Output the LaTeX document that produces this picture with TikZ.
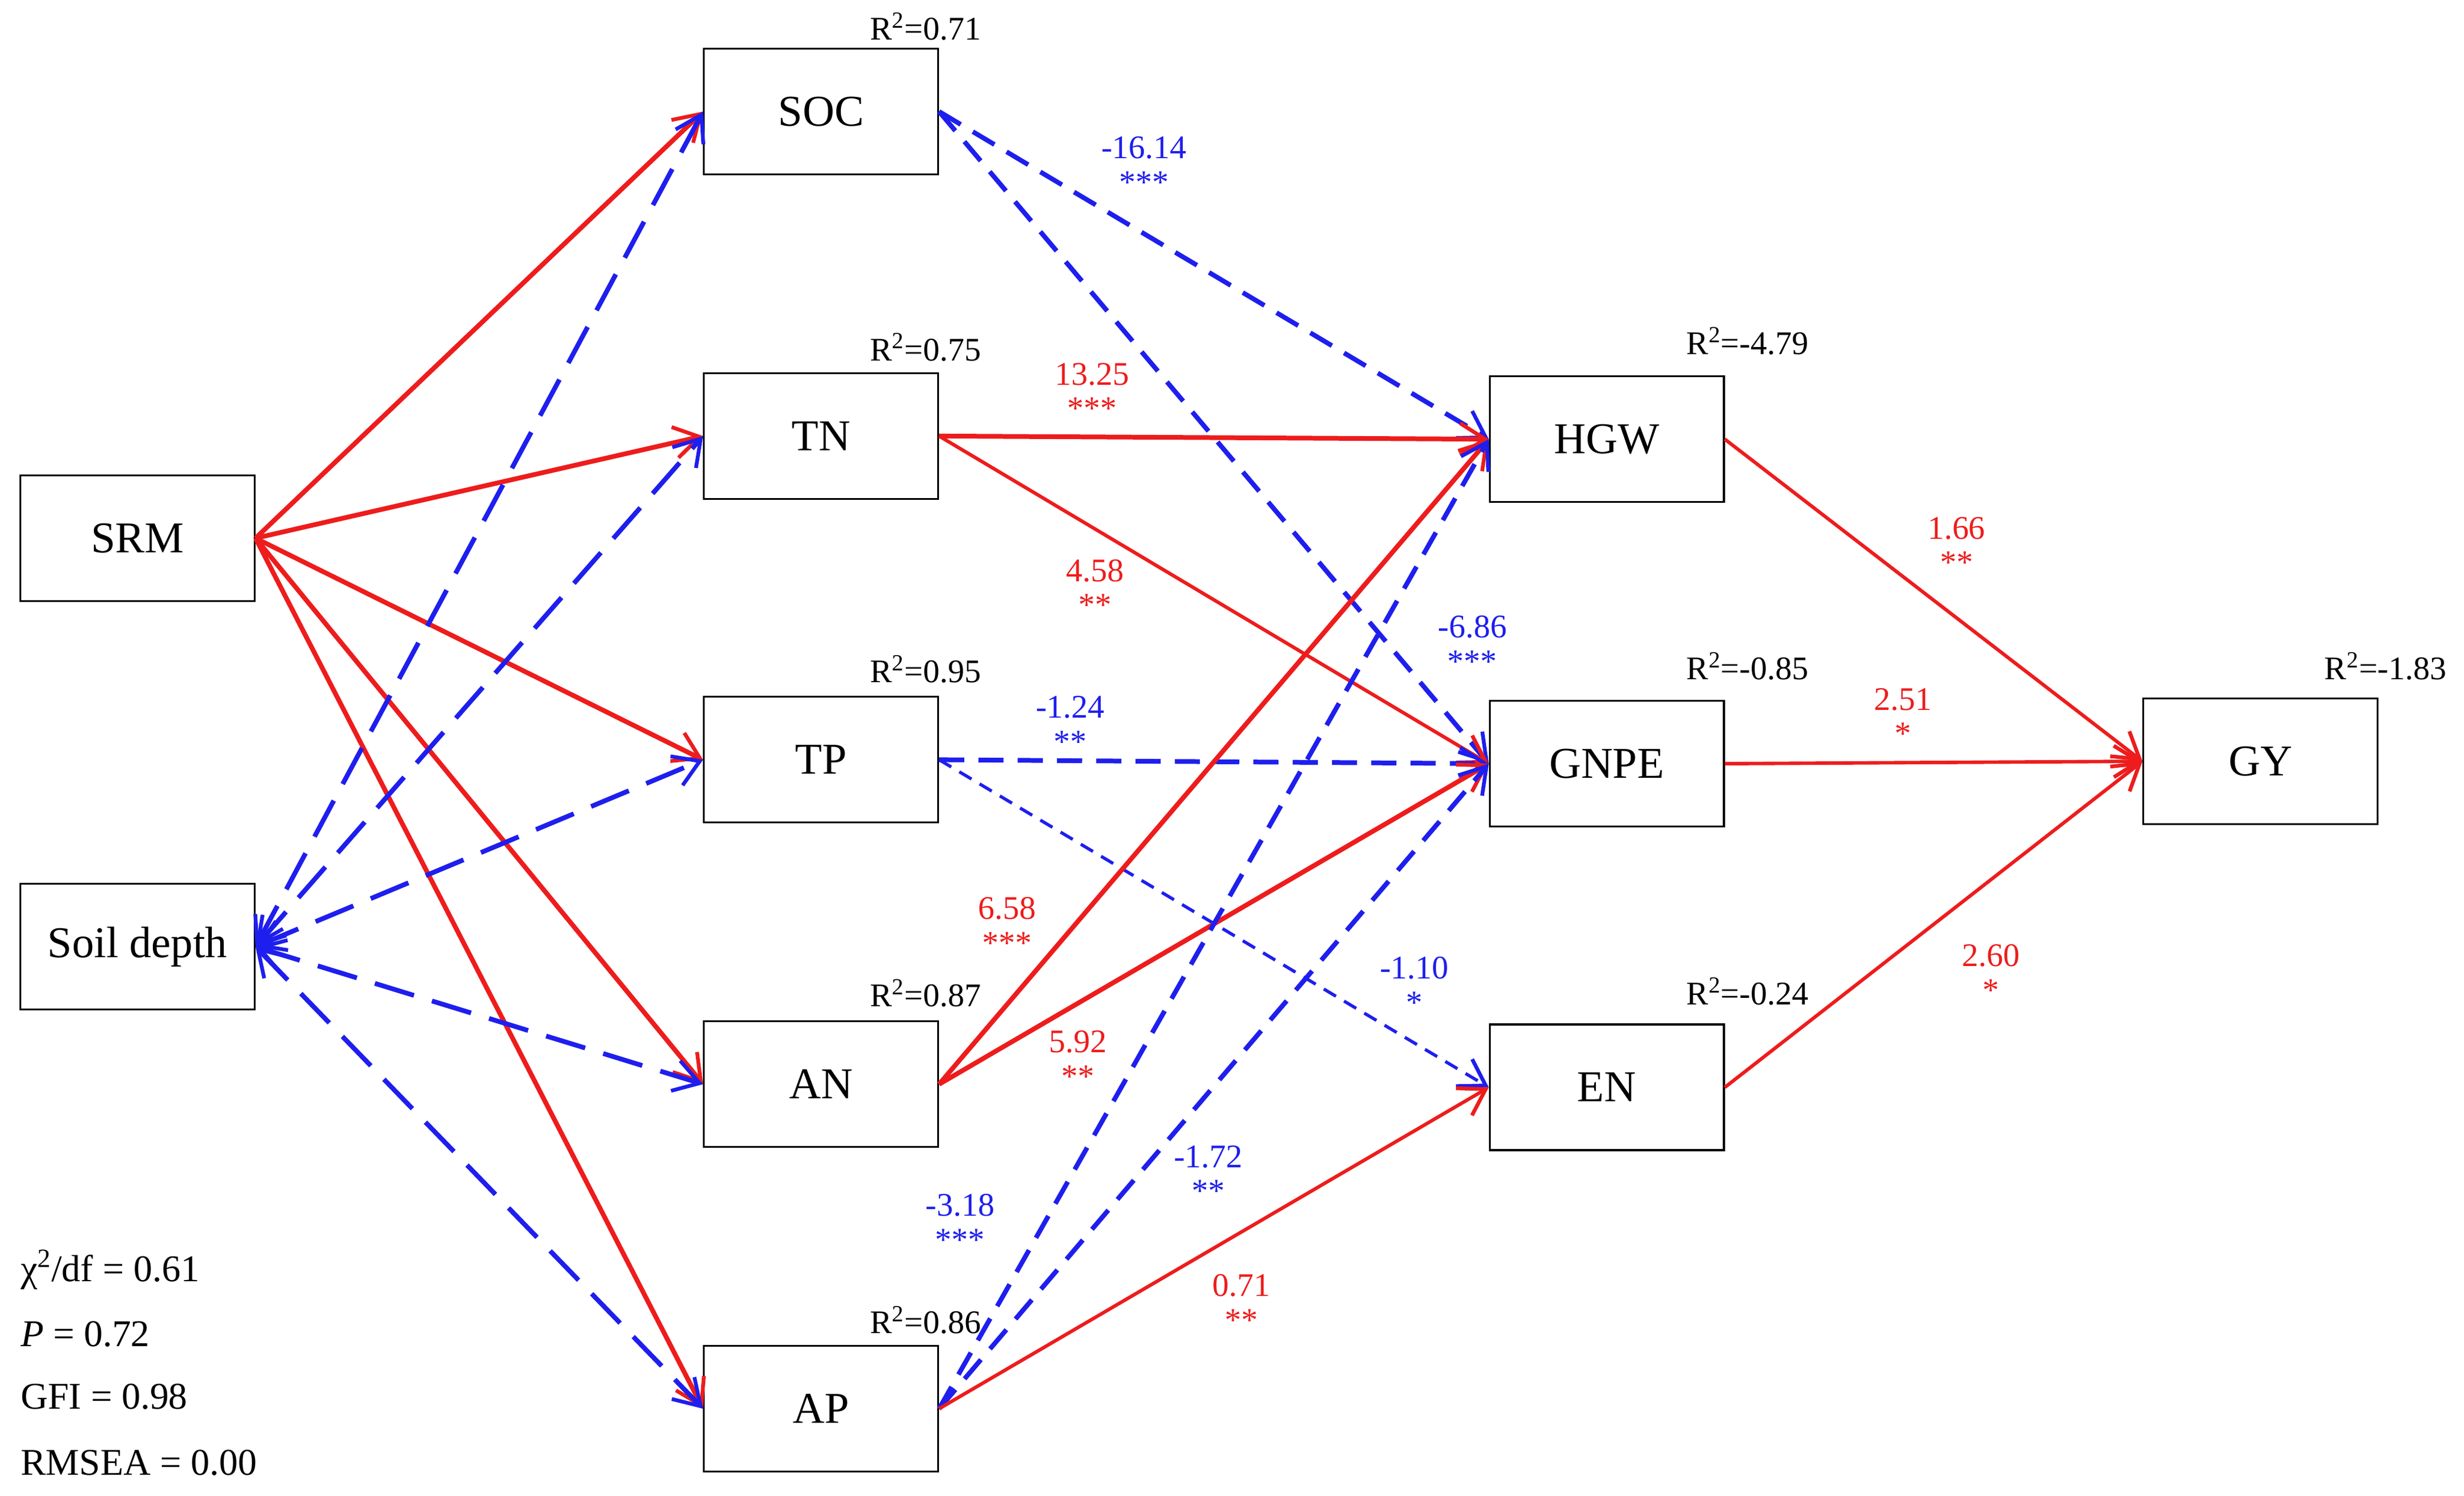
\documentclass[tikz,border=0pt]{standalone}
\usepackage{fontspec}
\setmainfont{Liberation Serif}
\usetikzlibrary{arrows.meta}
\definecolor{myred}{RGB}{238,28,28}
\definecolor{myblue}{RGB}{30,30,238}
\begin{document}
\begin{tikzpicture}[x=1pt,y=-1pt,
  box/.style={draw,line width=1.2pt,minimum width=149pt,minimum height=80pt,inner sep=0pt,font=\fontsize{28}{30}\selectfont},
  tip/.style={-{Straight Barb[length=16pt,width=20pt,line width=2.4pt]}},
  rthick/.style={tip,draw=myred,line width=3pt},
  rthin/.style={tip,draw=myred,line width=2.2pt},
  bthick/.style={tip,draw=myblue,line width=3pt,dash pattern=on 16pt off 9pt},
  bthin/.style={tip,draw=myblue,line width=2pt,dash pattern=on 9pt off 6pt},
  soil/.style={{Straight Barb[length=16pt,width=20pt,line width=2.4pt]}-{Straight Barb[length=16pt,width=20pt,line width=2.4pt]},draw=myblue,line width=3pt,dash pattern=on 26pt off 12pt},
  lr/.style={text=myred,font=\fontsize{21}{21}\selectfont,align=center,inner sep=0pt},
  lb/.style={text=myblue,font=\fontsize{21}{21}\selectfont,align=center,inner sep=0pt},
  rs/.style={font=\fontsize{21}{21}\selectfont,inner sep=0pt},
  st/.style={font=\fontsize{24}{24}\selectfont,anchor=west,inner sep=0pt}]
\useasboundingbox (0,0) rectangle (1568,952);
\node[box] (SOC) at (522.5,71) {SOC};
\node[box] (TN) at (522.5,277.5) {TN};
\node[box] (TP) at (522.5,483.5) {TP};
\node[box] (AN) at (522.5,690) {AN};
\node[box] (AP) at (522.5,896.5) {AP};
\node[box] (SRM) at (87.5,342.5) {SRM};
\node[box] (SD) at (87.5,602.5) {Soil depth};
\node[box] (HGW) at (1022.5,279.5) {HGW};
\node[box] (GNPE) at (1022.5,486) {GNPE};
\node[box] (EN) at (1022.5,692) {EN};
\node[box] (GY) at (1438.5,484.5) {GY};
% R2 labels
\node[rs] (r1) at (589,17) {R\textsuperscript{2}=0.71};
\node[rs] (r2) at (589,221) {R\textsuperscript{2}=0.75};
\node[rs] (r3) at (589,426) {R\textsuperscript{2}=0.95};
\node[rs] (r4) at (589,632) {R\textsuperscript{2}=0.87};
\node[rs] (r5) at (589,840) {R\textsuperscript{2}=0.86};
\node[rs] (r6) at (1112,217) {R\textsuperscript{2}=-4.79};
\node[rs] (r7) at (1112,424) {R\textsuperscript{2}=-0.85};
\node[rs] (r8) at (1112,631) {R\textsuperscript{2}=-0.24};
\node[rs] (r9) at (1518,424) {R\textsuperscript{2}=-1.83};
% SRM paths
\foreach \t in {SOC,TN,TP,AN,AP} \draw[rthick] (SRM.east) -- (\t.west);
\foreach \t in {SOC,TN,TP,AN,AP} \draw[soil] (SD.east) -- (\t.west);
% middle paths
\draw[bthick] (SOC.east) -- (HGW.west);
\draw[bthick] (SOC.east) -- (GNPE.west);
\draw[rthick] (TN.east) -- (HGW.west);
\draw[rthin] (TN.east) -- (GNPE.west);
\draw[bthick] (TP.east) -- (GNPE.west);
\draw[bthin] (TP.east) -- (EN.west);
\draw[rthick] (AN.east) -- (HGW.west);
\draw[rthick] (AN.east) -- (GNPE.west);
\draw[bthick] (AP.east) -- (HGW.west);
\draw[bthick] (AP.east) -- (GNPE.west);
\draw[rthin] (AP.east) -- (EN.west);
\draw[rthin] (HGW.east) -- (GY.west);
\draw[rthin] (GNPE.east) -- (GY.west);
\draw[rthin] (EN.east) -- (GY.west);
% coefficients
\node[lb] (c1) at (728,105) {-16.14\\[1pt]***};
\node[lb] (c2) at (937,410) {-6.86\\[1pt]***};
\node[lr] (c3) at (695,249) {13.25\\[1pt]***};
\node[lr] (c4) at (697,374) {4.58\\[1pt]**};
\node[lb] (c5) at (681,461) {-1.24\\[1pt]**};
\node[lb] (c6) at (900,627) {-1.10\\[1pt]*};
\node[lr] (c7) at (641,589) {6.58\\[1pt]***};
\node[lr] (c8) at (686,674) {5.92\\[1pt]**};
\node[lb] (c9) at (611,778) {-3.18\\[1pt]***};
\node[lb] (c10) at (769,747) {-1.72\\[1pt]**};
\node[lr] (c11) at (790,829) {0.71\\[1pt]**};
\node[lr] (c12) at (1245,347) {1.66\\[1pt]**};
\node[lr] (c13) at (1211,456) {2.51\\[1pt]*};
\node[lr] (c14) at (1267,619) {2.60\\[1pt]*};
% fit stats
\node[st] (f1) at (13,808) {χ\textsuperscript{2}/df = 0.61};
\node[st] (f2) at (13,849) {\textit{P} = 0.72};
\node[st] (f3) at (13,889) {GFI = 0.98};
\node[st] (f4) at (13,931) {RMSEA = 0.00};
\end{tikzpicture}
\end{document}
